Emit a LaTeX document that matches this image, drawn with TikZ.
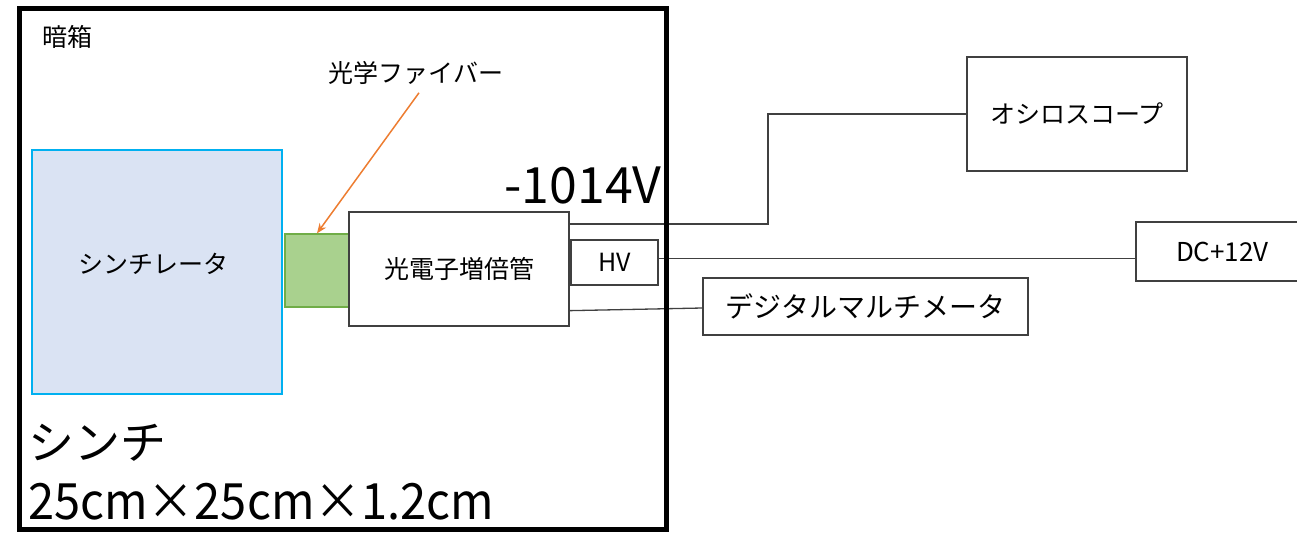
\documentclass[tikz,border=0pt]{standalone}
\usepackage{fontspec}
\setmainfont{Noto Sans CJK JP}
\usetikzlibrary{arrows.meta,calc}
\definecolor{scifill}{HTML}{DAE3F3}
\definecolor{sciline}{HTML}{00B0F0}
\definecolor{fibfill}{HTML}{A9D18E}
\definecolor{fibline}{HTML}{70AD47}
\definecolor{arrcol}{HTML}{ED7D31}
\definecolor{wire}{HTML}{404040}
\newcommand{\fs}[1]{\fontsize{#1}{#1}\selectfont}
\begin{document}
\begin{tikzpicture}[x=1pt,y=-1pt,
  devbox/.style={draw=wire,line width=1.3pt,fill=white,inner sep=0pt,font=\fs{25}},
  wireline/.style={draw=wire,line width=1.3pt},
  plain/.style={inner sep=0pt}]
\useasboundingbox (0,0) rectangle (1297,533);
\clip (0,0) rectangle (1297,533);
\node[draw=sciline,fill=scifill,line width=1.3pt,minimum width=250pt,minimum height=244pt,inner sep=0pt] (scint) at (157,272) {};
\node[plain,font=\fs{25}] (scintlbl) at (153,264) {シンチレータ};
\node[draw=fibline,fill=fibfill,line width=1.3pt,minimum width=64pt,minimum height=73pt,inner sep=0pt] (fiber) at (317,270.5) {};
\node[devbox,minimum width=220pt,minimum height=114pt] (pmt) at (459,269) {光電子増倍管};
\node[devbox,minimum width=87pt,minimum height=45pt] (hv) at (614.5,262.5) {HV};
\node[devbox,minimum width=220pt,minimum height=114pt] (osc) at (1077,114) {オシロスコープ};
\node[devbox,minimum width=180pt,minimum height=59pt,text width=160pt,align=left,font=\fs{26}] (dc) at (1226,251.5) {\hspace*{30pt}DC+12V};
\node[devbox,minimum width=325pt,minimum height=57pt,font=\fs{28}] (dmm) at (865.5,306.5) {デジタルマルチメータ};
\node[plain,font=\fs{25}] (fiblbl) at (416,73) {光学ファイバー};
\node[plain,font=\fs{25}] (dark) at (67,37) {暗箱};
\node[plain,font=\fs{50}] (volt) at (583,185) {-1014V};
\node[plain,anchor=west,font=\fs{46}] (sinchi) at (28,443) {シンチ};
\node[plain,anchor=west,font=\fs{50}] (size) at (28,502) {\scalebox{0.94}[1]{25cm×25cm×1.2cm}};
\coordinate (bend) at (768,224);
\draw[wireline] (pmt.east |- bend) -- (bend) |- (osc.west);
\draw[wireline] ([yshift=4pt]hv.east) -- ([yshift=4pt]hv.east -| dc.west);
\draw[wireline] ([yshift=16pt]pmt.south east) -- ([yshift=-1.5pt]dmm.west);
\draw[arrcol,line width=1.5pt,-{Stealth[length=10pt,width=8pt]}] ([xshift=3pt,yshift=-8pt]fiblbl.south) -- (fiber.north);
\node[draw=black,line width=5pt,minimum width=647pt,minimum height=521pt,inner sep=0pt] (box) at (343,269) {};
\end{tikzpicture}
\end{document}
